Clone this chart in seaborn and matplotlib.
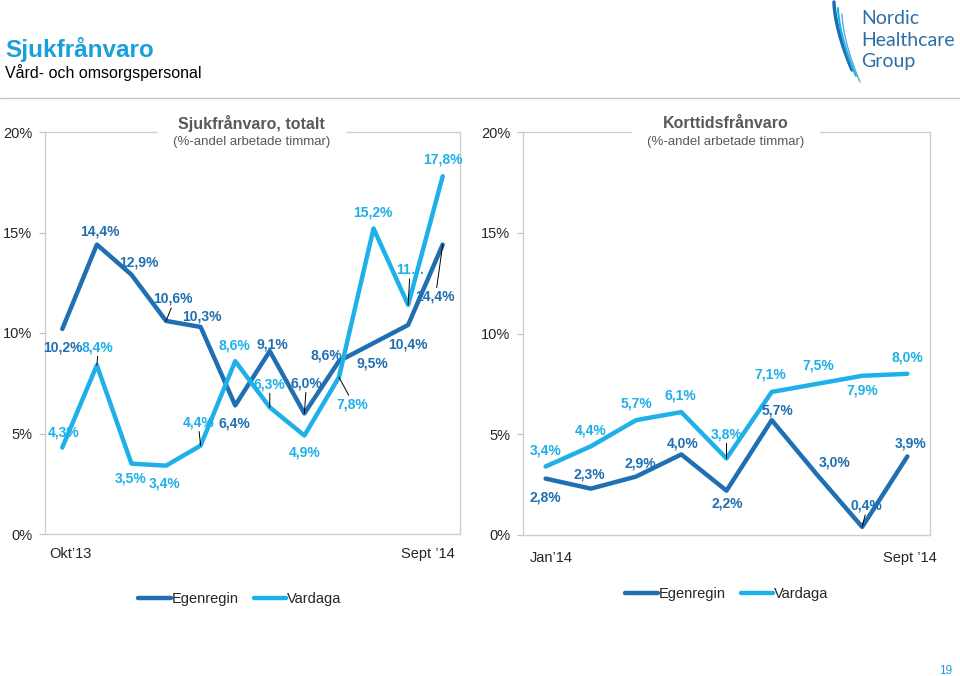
import numpy as np
import pandas as pd
import matplotlib
matplotlib.use('Agg')
import matplotlib.pyplot as plt
import seaborn as sns
from matplotlib.lines import Line2D

sns.set_style('white')
plt.rcParams['font.family'] = ['Liberation Sans', 'DejaVu Sans']

# Data - left panel: Sjukfrånvaro totalt, Okt'13 - Sept'14
months_total = ['Okt\u201913', 'Nov', 'Dec', 'Jan', 'Feb', 'Mar', 'Apr', 'Maj', 'Jun', 'Jul', 'Aug', 'Sept \u201914']
egen_total = [10.2, 14.4, 12.9, 10.6, 10.3, 6.4, 9.1, 6.0, 8.6, 9.5, 10.4, 14.4]
vard_total = [4.3, 8.4, 3.5, 3.4, 4.4, 8.6, 6.3, 4.9, 7.8, 15.2, 11.4, 17.8]

# Data - right panel: Korttidsfrånvaro, Jan'14 - Sept'14
months_short = ['Jan\u201914', 'Feb', 'Mar', 'Apr', 'Maj', 'Jun', 'Jul', 'Aug', 'Sept \u201914']
egen_short = [2.8, 2.3, 2.9, 4.0, 2.2, 5.7, 3.0, 0.4, 3.9]
vard_short = [3.4, 4.4, 5.7, 6.1, 3.8, 7.1, 7.5, 7.9, 8.0]

DARK = '#1f6fb2'
LIGHT = '#1eb0e8'
palette = {'Egenregin': DARK, 'Vardaga': LIGHT}

# label offsets in pixels (dx, dy up) and whether a leader line is drawn
off_egen_total = [(1, -19), (3, 13), (7, 12), (7, 22), (1, 10), (-1, -18), (3, 7), (2, 30), (-13, 6), (-1, -20), (0, -20), (-8, -52)]
lead_egen_total = [0, 0, 0, 1, 0, 0, 0, 1, 0, 0, 0, 1]
off_vard_total = [(1, 15), (1, 18), (-1, -15), (-1, -18), (-2, 23), (-1, 16), (0, 23), (0, -17), (13, -27), (-1, 16), (2, 35), (0, 17)]
lead_vard_total = [0, 1, 0, 0, 1, 0, 1, 0, 1, 0, 1, 0]
off_egen_short = [(0, -19), (-2, 14), (4, 13), (1, 11), (1, -13), (6, 10), (18, 12), (4, 21), (3, 13)]
lead_egen_short = [0, 0, 0, 0, 0, 0, 0, 1, 0]
off_vard_short = [(0, 16), (0, 16), (0, 17), (-1, 17), (0, 24), (-1, 17), (1, 18), (0, -15), (0, 16)]
lead_vard_short = [0, 0, 0, 0, 1, 0, 0, 0, 0]


def fmt(v):
    return f'{v:.1f}%'.replace('.', ',')


def make_df(egen, vard):
    n = len(egen)
    return pd.DataFrame({
        'idx': list(range(n)) * 2,
        'value': list(egen) + list(vard),
        'serie': ['Egenregin'] * n + ['Vardaga'] * n,
    })


def label_series(ax, values, offsets, leaders, color, override=None):
    for i, v in enumerate(values):
        dx, dy = offsets[i]
        txt = fmt(v)
        if override and i in override:
            txt = override[i]
        ax.annotate(txt, xy=(i, v), xytext=(dx, dy), textcoords='offset pixels',
                    ha='center', va='center', fontsize=10, fontweight='bold',
                    color=color, zorder=5)
        if leaders[i]:
            # short black leader from point toward label
            ax.annotate('', xy=(i, v), xytext=(dx * 0.75, dy - np.sign(dy) * 9),
                        textcoords='offset pixels',
                        arrowprops=dict(arrowstyle='-', color='black', lw=0.7,
                                        shrinkA=0, shrinkB=0), zorder=6)


def style_panel(ax, n, labels, title, subtitle, gap, xlab):
    ax.set_xticks([])
    ax.set_xlim(-0.5, n - 0.5)
    ax.set_ylim(0, 20)
    ax.set_yticks([0, 5, 10, 15, 20])
    ax.set_yticklabels(['0%', '5%', '10%', '15%', '20%'], fontsize=10.5)
    # first / last period labels, aligned to the frame edges
    x0, x1, yl = xlab
    ax.text(x0, yl, labels[0], transform=ax.transAxes, ha='left', va='center', fontsize=10.5)
    ax.text(x1, yl, labels[-1], transform=ax.transAxes, ha='right', va='center', fontsize=10.5)
    ax.tick_params(axis='y', length=4, color='#bfbfbf', pad=5, left=True)
    for s in ['left', 'right', 'bottom']:
        ax.spines[s].set_color('#cfcfcf')
        ax.spines[s].set_linewidth(1.0)
    ax.spines['top'].set_visible(False)
    # broken top border around the title
    ax.plot([0, gap[0]], [1, 1], transform=ax.transAxes, color='#cfcfcf', lw=1.0, clip_on=False)
    ax.plot([gap[1], 1], [1, 1], transform=ax.transAxes, color='#cfcfcf', lw=1.0, clip_on=False)
    cx = (gap[0] + gap[1]) / 2
    ax.text(cx, 1.02, title, transform=ax.transAxes, ha='center', va='center',
            fontsize=11.5, fontweight='bold', color='#595959')
    ax.text(cx, 0.975, subtitle, transform=ax.transAxes, ha='center', va='center',
            fontsize=9.5, color='#595959')
    ax.set_xlabel('')
    ax.set_ylabel('')
    if ax.get_legend():
        ax.get_legend().remove()


fig = plt.figure(figsize=(9.6, 6.76), dpi=100)

ax1 = fig.add_axes([45 / 960, 1 - 534 / 676, 415 / 960, 402 / 676])
ax2 = fig.add_axes([523 / 960, 1 - 535 / 676, 407 / 960, 403 / 676])

sns.lineplot(data=make_df(egen_total, vard_total), x='idx', y='value', hue='serie',
             palette=palette, linewidth=3.2, ax=ax1, legend=False)
sns.lineplot(data=make_df(egen_short, vard_short), x='idx', y='value', hue='serie',
             palette=palette, linewidth=3.2, ax=ax2, legend=False)

style_panel(ax1, len(months_total), months_total, 'Sjukfrånvaro, totalt',
            '(%-andel arbetade timmar)', (0.27, 0.725), (0.01, 0.988, -0.05))
style_panel(ax2, len(months_short), months_short, 'Korttidsfrånvaro',
            '(%-andel arbetade timmar)', (0.265, 0.73), (0.017, 1.017, -0.057))

label_series(ax1, egen_total, off_egen_total, lead_egen_total, DARK)
label_series(ax1, vard_total, off_vard_total, lead_vard_total, LIGHT, override={10: '11\u2026'})
label_series(ax2, egen_short, off_egen_short, lead_egen_short, DARK)
label_series(ax2, vard_short, off_vard_short, lead_vard_short, LIGHT)

handles = [Line2D([], [], color=DARK, lw=3.2), Line2D([], [], color=LIGHT, lw=3.2)]
fig.legend(handles, ['Egenregin', 'Vardaga'], loc='center', bbox_to_anchor=(240 / 960, 1 - 599 / 676),
           ncol=2, frameon=False, fontsize=10.5, handlelength=2.2, handletextpad=0.1, columnspacing=1.0)
fig.legend(handles, ['Egenregin', 'Vardaga'], loc='center', bbox_to_anchor=(727 / 960, 1 - 594 / 676),
           ncol=2, frameon=False, fontsize=10.5, handlelength=2.2, handletextpad=0.1, columnspacing=1.0)

# page header
fig.text(5 / 960, 1 - 49 / 676, 'Sjukfrånvaro', fontsize=17.5, fontweight='bold', color='#1a9fdc',
         ha='left', va='center')
fig.text(5 / 960, 1 - 73 / 676, 'Vård- och omsorgspersonal', fontsize=11.5, color='black',
         ha='left', va='center')
fig.add_artist(Line2D([0, 1], [1 - 98 / 676, 1 - 98 / 676], transform=fig.transFigure,
                      color='#c8c8c8', lw=1.0))

# logo
for i, word in enumerate(['Nordic', 'Healthcare', 'Group']):
    fig.text(861 / 960, 1 - (19 + i * 21) / 676, word, fontsize=14, color='#2e6ea6',
             ha='left', va='center', family=['Lato', 'DejaVu Sans'])
t = np.linspace(0, 1, 50)
for k, (c, w) in enumerate([('#1a6fb2', 2.5), ('#1eb0e8', 1.5), ('#5aa9d8', 1.0)]):
    xs = (834 + k * 4 + 18 * t ** 1.6) / 960
    ys = 1 - (2 + k * 6 + 68 * t) / 676
    fig.add_artist(Line2D(xs, ys, transform=fig.transFigure, color=c, lw=w))

fig.text(952 / 960, 1 - 671 / 676, '19', fontsize=8.5, color='#1a9fdc', ha='right', va='center')

fig.savefig('out.png', dpi=100)
